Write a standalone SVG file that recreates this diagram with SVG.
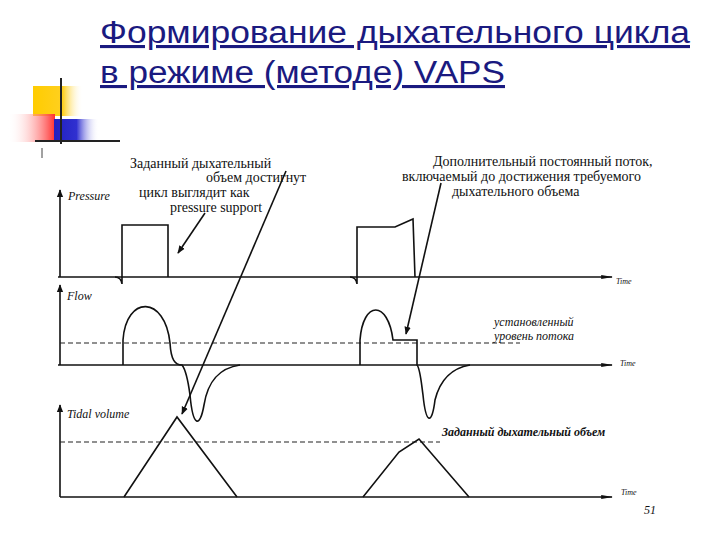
<svg xmlns="http://www.w3.org/2000/svg" width="720" height="540" viewBox="0 0 720 540">
<defs>
<linearGradient id="gy" x1="0" x2="1"><stop offset="0" stop-color="#ffcc00"/><stop offset="0.6" stop-color="#ffd020"/><stop offset="1" stop-color="#fff" stop-opacity="0"/></linearGradient>
<linearGradient id="gr" x1="1" x2="0"><stop offset="0" stop-color="#ff3030"/><stop offset="1" stop-color="#fff" stop-opacity="0"/></linearGradient>
<linearGradient id="gb" x1="0" x2="1"><stop offset="0" stop-color="#2020c0"/><stop offset="0.5" stop-color="#3030d0"/><stop offset="1" stop-color="#fff" stop-opacity="0"/></linearGradient>
<marker id="ah" viewBox="0 0 10 10" refX="9" refY="5" markerWidth="8" markerHeight="8" orient="auto" markerUnits="userSpaceOnUse"><path d="M0,1 L10,5 L0,9 Z" fill="#111"/></marker>
<marker id="ax" viewBox="0 0 10 10" refX="9" refY="5" markerWidth="12" markerHeight="7" orient="auto" markerUnits="userSpaceOnUse" preserveAspectRatio="none"><path d="M0,2 L10,5 L0,8 Z" fill="#111"/></marker>
</defs>
<style>
.title{font-family:"Liberation Sans",Arial,sans-serif;font-size:31px;fill:#1a1a80;text-decoration:underline}
.ln{fill:none;stroke:#111;stroke-width:1.6}
.dash{fill:none;stroke:#222;stroke-width:1.2;stroke-dasharray:5 3}
.ann{font-family:"Liberation Serif","Times New Roman",serif;font-size:14px;fill:#111}
.it{font-family:"Liberation Serif","Times New Roman",serif;font-size:12px;font-style:italic;fill:#111}
.sm{font-family:"Liberation Serif","Times New Roman",serif;font-size:8px;font-style:italic;fill:#111}
</style>
<rect width="720" height="540" fill="#fff"/>
<g id="decor">
<rect x="33" y="86" width="50" height="30" fill="url(#gy)"/>
<rect x="8" y="114" width="47" height="28" fill="url(#gr)"/>
<rect x="54" y="119" width="45" height="23" fill="url(#gb)"/>
<line x1="61" y1="78" x2="61" y2="144" stroke="#222" stroke-width="2"/>
<line x1="35" y1="141" x2="120" y2="141" stroke="#222" stroke-width="2"/>
<line x1="42" y1="148" x2="42" y2="158" stroke="#444" stroke-width="1"/>
</g>
<g id="title">
<text class="title" x="100" y="43" textLength="590" lengthAdjust="spacingAndGlyphs">Формирование дыхательного цикла</text>
<text class="title" x="100" y="83" textLength="405" lengthAdjust="spacingAndGlyphs">в режиме (методе) VAPS</text>
</g>
<g id="connectors">
<line class="ln" x1="60" y1="277" x2="60" y2="190" marker-end="url(#ah)"/>
<line class="ln" x1="58" y1="277" x2="612" y2="277" marker-end="url(#ax)"/>
<line class="ln" x1="60" y1="365" x2="60" y2="285" marker-end="url(#ah)"/>
<line class="ln" x1="58" y1="365" x2="612" y2="365" marker-end="url(#ax)"/>
<line class="ln" x1="60" y1="497" x2="60" y2="405" marker-end="url(#ah)"/>
<line class="ln" x1="60" y1="497" x2="612" y2="497" marker-end="url(#ax)"/>
<line class="dash" x1="60" y1="343" x2="520" y2="343"/>
<line class="dash" x1="60" y1="442" x2="440" y2="442"/>
<path class="ln" d="M115,277 Q121,277 122,284 L122,225 L168,225 L168,277"/>
<path class="ln" d="M350,277 Q356,277 357,284 L357,227 L395,227 L413,219 L415,277"/>
<path class="ln" d="M123,365 L123,340 C126,295 165,295 170,343 C171,360 175,365 182,365 C186,370 188,380 190,395 C193,428 200,428 204,405 C208,380 220,368 240,365"/>
<path class="ln" d="M360,365 L360,340 C363,300 388,300 393,340 L395,340 L417,340 L417,365 C420,368 421,380 423,395 C426,425 432,425 435,400 C440,380 452,368 470,365"/>
<path class="ln" d="M124,497 L177,417 L237,497"/>
<path class="ln" d="M363,497 L399,452 L419,439 L469,497"/>
<line class="ln" x1="205" y1="213" x2="178" y2="253" marker-end="url(#ah)" stroke-width="1.2"/>
<line class="ln" x1="286" y1="171" x2="182" y2="414" marker-end="url(#ah)" stroke-width="1.2"/>
<line class="ln" x1="441" y1="183" x2="406" y2="334" marker-end="url(#ah)" stroke-width="1.2"/>
</g>
<g id="labels">
<text class="it" x="68" y="200">Pressure</text>
<text class="it" x="67" y="300">Flow</text>
<text class="it" x="67" y="418">Tidal volume</text>
<text class="sm" x="616" y="284">Time</text>
<text class="sm" x="620" y="366">Time</text>
<text class="sm" x="621" y="495">Time</text>
<text class="ann" x="130" y="168">Заданный дыхательный</text>
<text class="ann" x="206" y="182">объем достигнут</text>
<text class="ann" x="139" y="197">цикл выглядит как</text>
<text class="ann" x="170" y="212">pressure support</text>
<text class="ann" x="433" y="166">Дополнительный постоянный поток,</text>
<text class="ann" x="402" y="181">включаемый до достижения требуемого</text>
<text class="ann" x="452" y="196">дыхательного объема</text>
<text class="it" x="494" y="326">установленный</text>
<text class="it" x="494" y="340">уровень потока</text>
<text class="it" x="442" y="436" font-weight="bold">Заданный дыхательный объем</text>
<text class="it" x="644" y="514" font-size="14">51</text>
</g>
</svg>
